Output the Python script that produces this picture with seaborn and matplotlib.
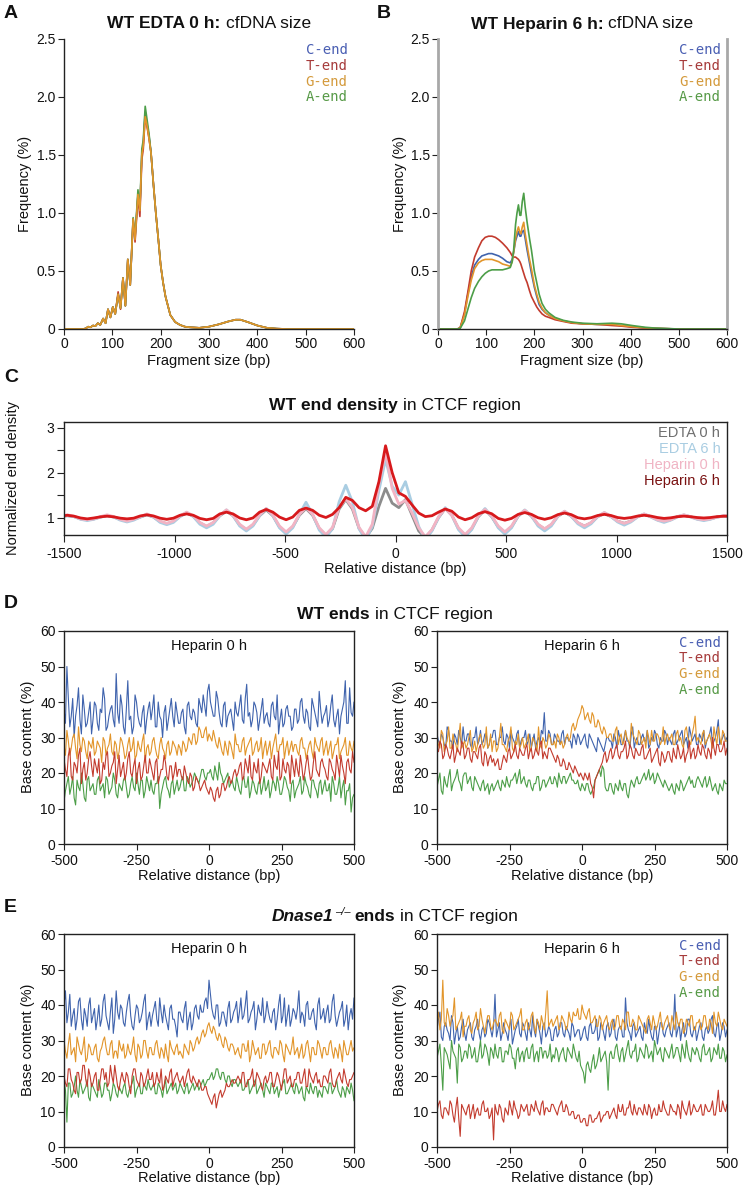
import numpy as np
import matplotlib
matplotlib.use("Agg")
import matplotlib.pyplot as plt
from matplotlib.transforms import IdentityTransform
import seaborn as sns

# ---------------- data ----------------
# A: WT EDTA 0 h fragment size (%)
size_x_a = [0, 40, 45, 50, 55, 60, 65, 70, 75, 81,
            86, 91, 96, 101, 106, 112, 117, 122, 127, 132,
            137, 143, 147, 153, 157, 161, 164, 168, 172, 176,
            180, 185, 190, 195, 200, 205, 210, 220, 230, 240,
            250, 260, 280, 300, 320, 340, 355, 365, 380, 400,
            420, 440, 460, 600]
edta0_c = [0, 0, 0.005, 0.02, 0.015, 0.03, 0.025, 0.05, 0.035, 0.09,
           0.05, 0.17, 0.1, 0.19, 0.13, 0.3, 0.18, 0.44, 0.2, 0.6,
           0.38, 0.93, 0.8, 1.15, 1.03, 1.5, 1.6, 1.87, 1.76, 1.66,
           1.52, 1.25, 1.0, 0.78, 0.55, 0.4, 0.28, 0.12, 0.06, 0.035,
           0.02, 0.015, 0.01, 0.02, 0.04, 0.065, 0.08, 0.08, 0.06, 0.03,
           0.01, 0.003, 0, 0]
edta0_t = [0, 0, 0.005, 0.02, 0.015, 0.03, 0.025, 0.05, 0.035, 0.09,
           0.05, 0.17, 0.1, 0.19, 0.13, 0.32, 0.17, 0.44, 0.2, 0.6,
           0.38, 0.95, 0.75, 1.14, 0.97, 1.46, 1.55, 1.84, 1.74, 1.64,
           1.52, 1.25, 1.0, 0.78, 0.55, 0.4, 0.28, 0.12, 0.06, 0.035,
           0.02, 0.015, 0.01, 0.02, 0.04, 0.065, 0.08, 0.08, 0.06, 0.03,
           0.01, 0.003, 0, 0]
edta0_g = [0, 0, 0.005, 0.02, 0.015, 0.03, 0.025, 0.05, 0.035, 0.09,
           0.05, 0.17, 0.1, 0.19, 0.13, 0.3, 0.18, 0.44, 0.2, 0.6,
           0.38, 0.95, 0.77, 1.16, 1.02, 1.5, 1.58, 1.83, 1.75, 1.64,
           1.52, 1.25, 1.0, 0.78, 0.55, 0.4, 0.28, 0.12, 0.06, 0.035,
           0.02, 0.015, 0.01, 0.02, 0.04, 0.065, 0.08, 0.08, 0.06, 0.03,
           0.01, 0.003, 0, 0]
edta0_a = [0, 0, 0.005, 0.02, 0.015, 0.03, 0.025, 0.05, 0.035, 0.09,
           0.05, 0.17, 0.1, 0.19, 0.13, 0.3, 0.18, 0.44, 0.2, 0.6,
           0.38, 0.96, 0.79, 1.2, 1.04, 1.55, 1.63, 1.92, 1.8, 1.68,
           1.52, 1.25, 1.0, 0.78, 0.55, 0.4, 0.28, 0.12, 0.06, 0.035,
           0.02, 0.015, 0.01, 0.02, 0.04, 0.065, 0.08, 0.08, 0.06, 0.03,
           0.01, 0.003, 0, 0]

# B: WT Heparin 6 h fragment size (%)
size_x_b = [0, 40, 46, 55, 62, 69, 76, 84, 91, 98,
            105, 112, 119, 126, 134, 143, 150, 154, 157, 161,
            164, 167, 170, 172, 175, 178, 181, 185, 190, 194,
            200, 205, 210, 216, 223, 230, 243, 260, 278, 300,
            330, 361, 380, 403, 430, 451, 500, 600]
hep6_c = [0, 0, 0.01, 0.13, 0.3, 0.45, 0.55, 0.6, 0.63, 0.64,
          0.65, 0.65, 0.64, 0.63, 0.61, 0.58, 0.57, 0.6, 0.66, 0.76,
          0.8, 0.84, 0.8, 0.8, 0.84, 0.85, 0.78, 0.68, 0.57, 0.48,
          0.36, 0.28, 0.21, 0.17, 0.14, 0.12, 0.09, 0.07, 0.055, 0.045,
          0.04, 0.04, 0.03, 0.02, 0.01, 0.005, 0, 0]
hep6_t = [0, 0, 0.01, 0.15, 0.32, 0.5, 0.62, 0.7, 0.76, 0.79,
          0.8, 0.8, 0.79, 0.77, 0.74, 0.7, 0.66, 0.63, 0.62, 0.62,
          0.61, 0.6, 0.58, 0.56, 0.52, 0.48, 0.44, 0.4, 0.33, 0.28,
          0.23, 0.19, 0.16, 0.13, 0.11, 0.1, 0.08, 0.065, 0.05, 0.045,
          0.04, 0.03, 0.025, 0.015, 0.008, 0.005, 0, 0]
hep6_g = [0, 0, 0.01, 0.12, 0.28, 0.42, 0.52, 0.57, 0.59, 0.6,
          0.6, 0.6, 0.59, 0.58, 0.56, 0.55, 0.54, 0.58, 0.66, 0.78,
          0.84, 0.88, 0.83, 0.82, 0.88, 0.92, 0.82, 0.72, 0.6, 0.52,
          0.38, 0.3, 0.23, 0.18, 0.14, 0.12, 0.09, 0.07, 0.055, 0.045,
          0.04, 0.04, 0.03, 0.02, 0.01, 0.005, 0, 0]
hep6_a = [0, 0, 0.005, 0.07, 0.17, 0.27, 0.35, 0.41, 0.45, 0.48,
          0.5, 0.51, 0.51, 0.51, 0.51, 0.52, 0.53, 0.58, 0.68, 0.9,
          1.0, 1.07, 0.98, 0.98, 1.1, 1.17, 1.05, 0.92, 0.78, 0.68,
          0.5, 0.4, 0.3, 0.22, 0.17, 0.14, 0.1, 0.075, 0.06, 0.05,
          0.045, 0.05, 0.045, 0.03, 0.015, 0.008, 0, 0]

# C: normalized end density around CTCF, positions -1515..1515 every 30 bp
ctcf_x = np.arange(-1515, 1516, 30)
dens_edta0 = [1.02, 1.04, 1.02, 0.97, 0.95, 0.97,
              1.01, 1.04, 1.01, 0.96, 0.93, 0.96,
              1.01, 1.06, 1.01, 0.91, 0.86, 0.91,
              1.03, 1.10, 1.03, 0.88, 0.80, 0.88,
              1.04, 1.14, 1.04, 0.83, 0.73, 0.83,
              1.04, 1.17, 1.04, 0.79, 0.66, 0.79,
              1.05, 1.20, 1.05, 0.75, 0.60, 0.75,
              1.19, 1.40, 1.19, 0.76, 0.55, 0.76,
              1.25, 1.65, 1.32, 1.22, 1.40, 1.05,
              0.70, 0.55, 0.72, 1.00, 1.20, 1.05,
              0.75, 0.60, 0.75, 1.02, 1.17, 1.02,
              0.79, 0.67, 0.79, 1.03, 1.15, 1.03,
              0.84, 0.74, 0.84, 1.03, 1.12, 1.03,
              0.88, 0.81, 0.88, 1.02, 1.09, 1.02,
              0.92, 0.87, 0.92, 1.02, 1.07, 1.02,
              0.95, 0.92, 0.95, 1.02, 1.05, 1.02,
              0.97, 0.95, 0.97, 1.01, 1.03, 1.02]
dens_edta6 = [1.02, 1.04, 1.02, 0.96, 0.93, 0.96,
              1.01, 1.04, 1.01, 0.94, 0.90, 0.94,
              1.01, 1.07, 1.01, 0.89, 0.84, 0.89,
              1.02, 1.11, 1.02, 0.85, 0.77, 0.85,
              1.04, 1.17, 1.04, 0.81, 0.70, 0.81,
              1.04, 1.20, 1.04, 0.77, 0.63, 0.77,
              1.07, 1.34, 1.07, 0.72, 0.56, 0.75,
              1.35, 1.72, 1.35, 0.75, 0.50, 0.80,
              1.60, 2.30, 1.70, 1.50, 1.80, 1.30,
              0.80, 0.50, 0.70, 1.00, 1.22, 1.05,
              0.73, 0.57, 0.73, 1.03, 1.20, 1.03,
              0.77, 0.63, 0.77, 1.04, 1.17, 1.04,
              0.81, 0.70, 0.81, 1.03, 1.14, 1.03,
              0.86, 0.77, 0.86, 1.02, 1.11, 1.02,
              0.90, 0.83, 0.90, 1.01, 1.08, 1.01,
              0.94, 0.89, 0.94, 1.01, 1.06, 1.01,
              0.96, 0.93, 0.96, 1.01, 1.04, 1.02]
dens_hep0 = [1.03, 1.06, 1.03, 0.97, 0.95, 0.97,
             1.02, 1.06, 1.02, 0.96, 0.92, 0.96,
             1.02, 1.08, 1.02, 0.92, 0.87, 0.92,
             1.04, 1.12, 1.04, 0.89, 0.81, 0.89,
             1.05, 1.17, 1.05, 0.85, 0.74, 0.85,
             1.06, 1.20, 1.06, 0.81, 0.68, 0.81,
             1.07, 1.22, 1.07, 0.77, 0.62, 0.78,
             1.22, 1.42, 1.22, 0.78, 0.57, 0.85,
             1.75, 2.45, 1.65, 1.30, 1.38, 1.10,
             0.77, 0.57, 0.73, 1.02, 1.20, 1.05,
             0.77, 0.62, 0.77, 1.04, 1.18, 1.04,
             0.81, 0.68, 0.81, 1.05, 1.16, 1.05,
             0.85, 0.75, 0.85, 1.04, 1.14, 1.04,
             0.89, 0.81, 0.89, 1.03, 1.11, 1.03,
             0.92, 0.87, 0.92, 1.02, 1.08, 1.02,
             0.95, 0.92, 0.95, 1.02, 1.06, 1.02,
             0.97, 0.95, 0.97, 1.01, 1.04, 1.03]
dens_hep6 = [1.03, 1.05, 1.03, 0.99, 0.97, 0.99,
             1.015, 1.03, 1.015, 0.985, 0.97, 0.985,
             1.035, 1.06, 1.035, 0.985, 0.96, 0.985,
             1.05, 1.08, 1.05, 0.98, 0.95, 0.98,
             1.08, 1.12, 1.08, 0.99, 0.95, 0.99,
             1.12, 1.18, 1.12, 1.01, 0.95, 1.01,
             1.16, 1.21, 1.16, 1.05, 1.00, 1.07,
             1.22, 1.45, 1.38, 1.22, 1.15, 1.25,
             1.80, 2.60, 2.00, 1.55, 1.47, 1.28,
             1.10, 1.02, 1.04, 1.12, 1.19, 1.14,
             1.01, 0.95, 0.995, 1.085, 1.13, 1.085,
             0.98, 0.94, 0.98, 1.07, 1.11, 1.07,
             0.995, 0.96, 0.995, 1.065, 1.10, 1.065,
             0.995, 0.97, 0.995, 1.045, 1.07, 1.045,
             1.00, 0.98, 0.998, 1.032, 1.05, 1.032,
             1.00, 0.98, 0.993, 1.018, 1.03, 1.018,
             1.00, 0.99, 1.00, 1.02, 1.03, 1.03]

# D/E: base content (%) of fragment ends
# read at -500..500 (every 10 bp) and at the in-between positions -495..495
rel_x = np.arange(-500, 501, 10)
rel_x_mid = np.arange(-495, 496, 10)

wt_h0_c = [38, 50, 33, 41, 36, 44, 31, 38, 34, 40, 35, 39, 32, 37, 41, 33, 38, 35, 48, 34,
           39, 31, 46, 36, 33, 40, 34, 37, 31, 38, 35, 42, 33, 36, 30, 39, 35, 41, 33, 37,
           34, 38, 31, 40, 35, 37, 33, 39, 42, 36, 45, 38, 36, 41, 34, 39, 33, 37, 35, 40,
           36, 42, 34, 45, 37, 35, 39, 32, 38, 34, 37, 33, 40, 35, 31, 38, 34, 39, 36, 33,
           38, 35, 41, 34, 37, 32, 39, 35, 43, 34, 37, 33, 39, 35, 36, 31, 38, 46, 34, 37, 40]
wt_h0_c_mid = [34, 41, 36, 30, 39, 35, 42, 33, 37, 31, 40, 34, 38, 44, 32, 36, 39, 33, 37, 42,
               33, 38, 35, 31, 42, 36, 33, 39, 35, 40, 38, 33, 40, 35, 37, 32, 38, 36, 40, 34,
               37, 33, 39, 36, 38, 34, 41, 37, 39, 43, 40, 36, 43, 37, 33, 40, 36, 38, 32, 37,
               39, 35, 41, 36, 33, 40, 37, 35, 41, 36, 34, 39, 36, 42, 35, 33, 38, 36, 32, 38,
               34, 40, 36, 38, 33, 41, 37, 33, 38, 36, 39, 35, 42, 33, 38, 36, 40, 34, 44, 36]
wt_h0_g = [28, 32, 25, 30, 27, 33, 26, 29, 24, 28, 30, 26, 28, 23, 29, 27, 31, 25, 28, 26,
           29, 24, 28, 26, 30, 25, 27, 29, 23, 28, 26, 30, 25, 28, 27, 24, 29, 26, 28, 25,
           27, 29, 26, 30, 28, 31, 29, 32, 30, 33, 31, 29, 30, 27, 28, 25, 27, 29, 26, 31,
           28, 26, 30, 27, 29, 25, 28, 26, 30, 27, 25, 29, 27, 31, 26, 28, 24, 29, 27, 26,
           28, 25, 30, 27, 26, 29, 24, 28, 26, 30, 27, 25, 29, 26, 28, 24, 27, 30, 25, 27, 29]
wt_h0_g_mid = [25, 29, 27, 31, 24, 28, 30, 26, 29, 27, 25, 29, 27, 30, 25, 28, 26, 29, 24, 30,
               27, 25, 30, 27, 24, 29, 26, 31, 27, 25, 29, 27, 24, 30, 26, 28, 25, 29, 27, 28,
               25, 28, 27, 29, 31, 28, 33, 30, 32, 29, 30, 32, 28, 30, 26, 29, 25, 28, 24, 28,
               26, 29, 25, 28, 30, 26, 29, 27, 24, 29, 27, 24, 29, 26, 28, 30, 27, 25, 29, 28,
               26, 29, 27, 24, 28, 26, 30, 27, 29, 25, 29, 27, 24, 28, 30, 26, 28, 25, 29, 26]
wt_h0_t = [24, 19, 27, 18, 22, 25, 17, 23, 20, 26, 19, 22, 24, 18, 21, 26, 20, 23, 17, 25,
           21, 18, 24, 20, 22, 17, 23, 19, 25, 20, 22, 18, 24, 19, 21, 23, 18, 22, 20, 19,
           21, 18, 20, 17, 19, 16, 18, 15, 17, 16, 14, 15, 12, 16, 14, 17, 16, 19, 18, 21,
           20, 23, 19, 22, 25, 18, 21, 24, 19, 22, 20, 24, 18, 22, 26, 19, 21, 23, 17, 22,
           24, 19, 22, 20, 25, 18, 23, 21, 19, 24, 21, 18, 23, 20, 25, 19, 22, 17, 24, 20, 23]
wt_h0_t_mid = [21, 25, 19, 23, 20, 27, 21, 18, 24, 22, 24, 20, 17, 23, 25, 19, 22, 26, 21, 19,
               23, 20, 26, 19, 24, 21, 18, 22, 20, 24, 20, 23, 17, 21, 25, 19, 22, 18, 23, 21,
               19, 22, 18, 20, 15, 19, 17, 16, 18, 15, 16, 13, 15, 13, 17, 15, 18, 17, 20, 19,
               22, 18, 24, 20, 19, 23, 20, 17, 23, 21, 22, 19, 25, 21, 18, 24, 20, 22, 25, 19,
               21, 25, 18, 23, 21, 19, 26, 20, 23, 22, 19, 24, 21, 18, 22, 25, 20, 23, 21, 26]
wt_h0_a = [12, 17, 14, 19, 11, 16, 20, 13, 18, 15, 17, 14, 19, 16, 13, 18, 15, 20, 14, 17,
           15, 19, 13, 17, 16, 20, 14, 18, 15, 17, 18, 14, 17, 10, 16, 19, 15, 17, 14, 18,
           16, 19, 15, 18, 17, 20, 18, 19, 21, 18, 20, 19, 22, 18, 20, 17, 19, 16, 18, 15,
           17, 14, 19, 16, 13, 18, 15, 17, 14, 19, 16, 13, 18, 15, 17, 14, 19, 16, 12, 18,
           15, 17, 14, 19, 16, 13, 18, 15, 17, 14, 18, 15, 12, 17, 14, 19, 16, 11, 15, 9, 14]
wt_h0_a_mid = [15, 19, 16, 13, 18, 15, 17, 12, 19, 16, 14, 18, 15, 17, 19, 14, 16, 18, 13, 16,
               18, 16, 14, 19, 15, 17, 18, 13, 19, 15, 15, 17, 19, 14, 18, 16, 13, 18, 16, 15,
               18, 15, 19, 16, 18, 19, 17, 21, 19, 20, 21, 18, 20, 23, 19, 18, 20, 17, 16, 19,
               15, 18, 16, 19, 15, 17, 14, 18, 16, 15, 18, 15, 17, 19, 14, 16, 18, 15, 17, 13,
               16, 19, 15, 17, 14, 18, 16, 13, 18, 16, 15, 17, 19, 14, 16, 13, 18, 15, 17, 13]

wt_h6_c = [31, 28, 30, 27, 32, 29, 31, 28, 30, 33, 29, 31, 27, 30, 28, 32, 29, 31, 28, 30,
           32, 28, 30, 29, 31, 27, 30, 28, 32, 29, 30, 28, 31, 29, 27, 30, 32, 37, 29, 31,
           28, 30, 29, 31, 28, 30, 29, 31, 28, 30, 29, 31, 27, 30, 28, 26, 29, 27, 28, 30,
           29, 31, 27, 30, 28, 32, 29, 31, 27, 30, 28, 31, 29, 27, 30, 32, 28, 30, 29, 31,
           30, 28, 32, 29, 31, 28, 30, 33, 29, 31, 28, 30, 32, 29, 31, 28, 30, 35, 29, 31, 30]
wt_h6_c_mid = [29, 31, 28, 33, 29, 27, 30, 32, 28, 29, 31, 28, 30, 33, 29, 28, 31, 27, 30, 32,
               28, 30, 33, 28, 30, 32, 29, 31, 27, 30, 32, 29, 27, 31, 29, 28, 31, 29, 32, 28,
               31, 29, 28, 32, 30, 29, 27, 30, 31, 28, 30, 28, 31, 29, 27, 30, 28, 26, 30, 29,
               27, 30, 32, 28, 30, 29, 27, 33, 29, 28, 30, 29, 32, 28, 29, 31, 27, 29, 32, 28,
               29, 31, 28, 30, 32, 29, 27, 31, 30, 28, 31, 29, 27, 30, 33, 29, 32, 28, 30, 29]
wt_h6_g = [30, 27, 31, 28, 33, 27, 29, 26, 34, 28, 27, 30, 26, 29, 28, 31, 27, 33, 28, 26,
           29, 27, 34, 28, 26, 30, 27, 29, 31, 28, 27, 29, 26, 30, 28, 33, 27, 29, 28, 30,
           28, 27, 30, 29, 28, 31, 30, 34, 33, 36, 39, 35, 37, 34, 36, 33, 34, 31, 32, 30,
           31, 29, 33, 30, 28, 32, 29, 34, 30, 28, 31, 29, 27, 30, 32, 29, 31, 28, 33, 30,
           29, 31, 28, 32, 30, 27, 33, 29, 31, 36, 30, 28, 32, 29, 31, 27, 30, 33, 28, 31, 29]
wt_h6_g_mid = [28, 32, 26, 29, 27, 31, 28, 30, 27, 29, 28, 32, 27, 26, 30, 29, 28, 27, 31, 29,
               26, 30, 28, 27, 29, 33, 26, 28, 27, 30, 28, 31, 27, 29, 26, 28, 30, 27, 31, 28,
               29, 31, 28, 27, 30, 29, 33, 32, 35, 37, 38, 36, 35, 37, 33, 35, 32, 33, 30, 31,
               29, 32, 28, 31, 29, 30, 28, 31, 29, 32, 28, 30, 32, 28, 29, 31, 30, 29, 28, 31,
               30, 28, 31, 29, 28, 32, 30, 28, 33, 29, 29, 31, 28, 30, 29, 33, 28, 30, 32, 29]
wt_h6_t = [27, 29, 24, 28, 25, 26, 23, 27, 25, 28, 25, 27, 23, 26, 24, 28, 22, 25, 24, 23,
           22, 24, 21, 25, 23, 27, 25, 28, 24, 26, 25, 28, 26, 24, 27, 25, 29, 26, 24, 27,
           25, 23, 24, 22, 23, 21, 22, 20, 21, 19, 19, 20, 18, 17, 13, 19, 21, 23, 26, 24,
           27, 25, 28, 24, 26, 29, 25, 27, 24, 26, 25, 28, 24, 26, 23, 25, 27, 22, 25, 24,
           26, 23, 25, 28, 24, 27, 25, 29, 26, 24, 28, 25, 27, 24, 26, 30, 25, 28, 26, 29, 27]
wt_h6_t_mid = [26, 28, 25, 27, 24, 28, 25, 26, 29, 24, 27, 24, 26, 25, 27, 23, 26, 22, 25, 24,
               23, 21, 23, 24, 26, 24, 26, 25, 27, 25, 27, 24, 27, 25, 26, 28, 24, 25, 27, 26,
               24, 25, 22, 24, 21, 23, 21, 22, 20, 20, 18, 19, 20, 16, 18, 20, 22, 25, 23, 26,
               24, 27, 25, 26, 27, 24, 28, 25, 27, 25, 27, 24, 25, 27, 24, 26, 23, 26, 23, 26,
               24, 27, 24, 26, 25, 23, 26, 24, 27, 25, 26, 28, 25, 27, 24, 27, 28, 26, 27, 25]
wt_h6_a = [16, 20, 14, 17, 19, 15, 18, 21, 17, 19, 20, 18, 16, 19, 17, 15, 18, 16, 14, 17,
           16, 18, 15, 17, 19, 16, 18, 20, 19, 17, 19, 16, 18, 15, 17, 19, 16, 18, 17, 19,
           17, 18, 20, 17, 19, 18, 20, 18, 17, 16, 17, 15, 17, 14, 16, 19, 21, 22, 16, 15,
           17, 14, 16, 18, 15, 17, 13, 18, 16, 19, 17, 19, 18, 21, 19, 17, 20, 18, 16, 17,
           15, 17, 14, 16, 18, 15, 17, 19, 18, 16, 19, 17, 18, 16, 19, 15, 17, 14, 16, 18, 17]
wt_h6_a_mid = [18, 15, 19, 16, 21, 17, 19, 18, 15, 20, 17, 19, 15, 18, 16, 17, 15, 17, 16, 15,
               17, 16, 18, 16, 17, 18, 19, 17, 21, 18, 17, 18, 16, 17, 19, 15, 18, 16, 18, 17,
               19, 16, 18, 19, 17, 19, 18, 17, 18, 15, 16, 17, 15, 15, 18, 20, 19, 21, 15, 17,
               15, 17, 15, 16, 17, 14, 16, 17, 18, 17, 18, 20, 19, 18, 20, 18, 19, 17, 18, 16,
               16, 15, 17, 15, 17, 16, 18, 17, 16, 18, 18, 16, 19, 17, 17, 16, 15, 17, 15, 17]

ko_h0_c = [40, 35, 43, 37, 33, 41, 36, 39, 34, 42, 37, 33, 40, 36, 43, 35, 38, 32, 44, 36,
           39, 34, 41, 37, 33, 40, 35, 38, 43, 36, 34, 39, 36, 42, 35, 37, 33, 40, 36, 31,
           38, 35, 41, 36, 33, 39, 37, 40, 38, 42, 47, 39, 36, 40, 35, 38, 34, 41, 36, 39,
           35, 42, 37, 44, 36, 39, 33, 40, 37, 35, 41, 36, 38, 33, 40, 35, 42, 37, 34, 39,
           36, 44, 38, 34, 41, 36, 39, 33, 42, 37, 35, 40, 36, 43, 34, 38, 41, 36, 33, 39, 42]
ko_h0_c_mid = [44, 38, 34, 39, 36, 42, 33, 37, 40, 35, 39, 36, 34, 41, 37, 33, 42, 36, 38, 40,
               35, 38, 43, 34, 37, 39, 36, 41, 33, 38, 37, 41, 34, 38, 40, 35, 39, 36, 34, 38,
               36, 39, 33, 38, 35, 40, 36, 38, 41, 39, 43, 37, 40, 34, 38, 36, 39, 35, 38, 41,
               38, 36, 40, 35, 38, 41, 36, 38, 42, 37, 38, 35, 39, 36, 43, 37, 34, 40, 36, 38,
               39, 35, 37, 40, 36, 38, 35, 40, 36, 39, 38, 35, 41, 37, 36, 39, 34, 40, 37, 36]
ko_h0_g = [30, 25, 32, 27, 24, 29, 26, 31, 25, 28, 26, 29, 24, 28, 31, 26, 29, 25, 27, 30,
           27, 25, 29, 26, 31, 24, 28, 26, 30, 25, 28, 26, 30, 25, 27, 29, 24, 28, 26, 29,
           27, 25, 28, 26, 29, 28, 31, 30, 33, 32, 35, 32, 33, 30, 31, 28, 30, 27, 29, 26,
           28, 25, 29, 27, 24, 30, 26, 28, 25, 29, 27, 30, 25, 28, 26, 29, 24, 28, 26, 31,
           27, 25, 29, 26, 30, 24, 28, 26, 29, 25, 28, 26, 30, 25, 27, 29, 24, 28, 26, 30, 28]
ko_h0_g_mid = [27, 29, 26, 28, 31, 27, 28, 24, 29, 26, 28, 25, 27, 30, 28, 26, 30, 27, 25, 28,
               29, 26, 27, 28, 26, 29, 25, 30, 27, 28, 26, 29, 27, 28, 25, 26, 30, 27, 28, 26,
               26, 29, 27, 30, 27, 30, 29, 32, 31, 34, 33, 34, 31, 32, 29, 31, 28, 29, 28, 27,
               26, 29, 27, 30, 26, 28, 27, 25, 29, 26, 29, 26, 28, 27, 30, 26, 29, 27, 28, 26,
               28, 27, 25, 29, 27, 28, 26, 30, 27, 28, 26, 29, 27, 28, 25, 27, 30, 26, 28, 27]
ko_h0_t = [20, 17, 22, 18, 15, 21, 19, 23, 17, 20, 18, 21, 16, 22, 19, 17, 23, 18, 20, 16,
           21, 18, 20, 15, 22, 19, 17, 20, 18, 22, 19, 17, 21, 18, 16, 20, 18, 22, 19, 21,
           18, 20, 19, 22, 18, 19, 17, 18, 16, 17, 14, 12, 15, 13, 16, 15, 18, 17, 19, 18,
           20, 18, 21, 17, 19, 22, 18, 20, 17, 19, 18, 21, 17, 19, 20, 16, 22, 18, 20, 17,
           19, 21, 18, 22, 17, 20, 18, 21, 19, 17, 20, 18, 22, 17, 19, 21, 18, 20, 17, 19, 21]
ko_h0_t_mid = [18, 22, 19, 16, 21, 18, 23, 19, 22, 17, 20, 16, 19, 22, 21, 18, 20, 23, 17, 19,
               19, 21, 17, 20, 22, 18, 21, 17, 20, 19, 21, 18, 19, 22, 17, 19, 21, 17, 20, 19,
               19, 17, 21, 19, 20, 18, 19, 16, 17, 15, 13, 14, 11, 15, 14, 16, 17, 18, 18, 19,
               19, 21, 17, 19, 20, 17, 21, 19, 16, 20, 19, 21, 17, 21, 18, 19, 22, 19, 17, 19,
               21, 18, 20, 17, 22, 19, 20, 18, 17, 20, 19, 21, 18, 17, 20, 19, 22, 18, 19, 20]
ko_h0_a = [19, 7, 18, 15, 20, 14, 17, 16, 19, 13, 17, 15, 19, 14, 18, 16, 13, 18, 15, 17,
           15, 18, 14, 17, 20, 16, 18, 15, 17, 19, 16, 18, 15, 17, 14, 19, 16, 18, 17, 15,
           18, 16, 17, 15, 17, 16, 18, 17, 19, 18, 19, 21, 20, 22, 19, 21, 18, 20, 17, 19,
           17, 19, 16, 18, 15, 17, 19, 16, 18, 14, 17, 15, 18, 16, 14, 17, 19, 15, 17, 16,
           18, 15, 17, 13, 16, 18, 15, 17, 16, 14, 17, 15, 18, 16, 19, 15, 17, 14, 16, 18, 13]
ko_h0_a_mid = [16, 18, 14, 17, 16, 19, 15, 17, 14, 18, 16, 14, 17, 15, 18, 16, 15, 17, 14, 16,
               17, 15, 16, 18, 14, 17, 15, 18, 16, 17, 17, 15, 18, 16, 17, 15, 17, 16, 18, 16,
               17, 15, 18, 16, 18, 17, 16, 18, 17, 19, 20, 19, 22, 20, 21, 19, 20, 18, 19, 18,
               18, 16, 17, 19, 16, 18, 15, 17, 16, 18, 16, 18, 15, 17, 16, 18, 15, 16, 18, 15,
               17, 16, 14, 17, 15, 16, 17, 14, 15, 17, 16, 18, 15, 17, 16, 14, 16, 17, 15, 16]

ko_h6_c = [33, 38, 30, 35, 32, 37, 29, 34, 31, 36, 30, 34, 31, 33, 36, 30, 34, 32, 35, 31,
           43, 33, 30, 35, 32, 34, 29, 33, 36, 31, 34, 30, 33, 37, 31, 34, 29, 35, 32, 33,
           30, 34, 32, 35, 31, 33, 30, 34, 32, 33, 31, 34, 30, 35, 32, 36, 31, 34, 30, 35,
           32, 36, 30, 34, 31, 42, 33, 30, 35, 32, 34, 30, 33, 36, 31, 34, 29, 35, 32, 33,
           35, 31, 43, 33, 30, 35, 32, 36, 31, 34, 32, 35, 30, 34, 33, 37, 31, 35, 32, 34, 33]
ko_h6_c_mid = [36, 31, 34, 33, 30, 35, 32, 30, 34, 32, 33, 35, 30, 34, 32, 33, 31, 36, 33, 34,
               31, 35, 32, 33, 30, 36, 31, 34, 32, 35, 32, 35, 31, 33, 36, 32, 34, 31, 34, 30,
               33, 31, 35, 32, 34, 32, 35, 31, 33, 30, 33, 31, 34, 32, 33, 30, 35, 32, 34, 31,
               35, 31, 33, 34, 31, 35, 32, 34, 31, 33, 31, 35, 32, 33, 30, 34, 32, 35, 31, 34,
               32, 34, 31, 35, 33, 31, 36, 32, 33, 30, 34, 31, 33, 32, 36, 32, 34, 30, 35, 31]
ko_h6_g = [35, 33, 47, 34, 37, 36, 42, 34, 36, 31, 34, 37, 32, 36, 33, 39, 34, 35, 37, 33,
           36, 34, 38, 32, 35, 33, 37, 34, 36, 39, 33, 36, 34, 38, 32, 35, 37, 33, 44, 35,
           34, 36, 33, 37, 35, 34, 36, 38, 37, 36, 40, 37, 38, 35, 36, 34, 37, 33, 36, 34,
           35, 33, 37, 34, 36, 33, 38, 34, 35, 33, 36, 34, 32, 37, 33, 35, 34, 38, 33, 36,
           34, 37, 33, 35, 36, 32, 36, 34, 37, 33, 35, 33, 37, 34, 36, 32, 35, 38, 34, 36, 34]
ko_h6_g_mid = [38, 36, 35, 39, 34, 37, 33, 35, 38, 34, 36, 33, 35, 38, 34, 36, 32, 37, 34, 35,
               35, 37, 33, 36, 34, 38, 33, 35, 37, 33, 35, 33, 37, 34, 36, 33, 35, 38, 34, 36,
               35, 37, 34, 36, 33, 38, 35, 37, 39, 36, 38, 36, 39, 35, 37, 34, 36, 35, 37, 33,
               36, 34, 37, 33, 35, 38, 34, 36, 33, 37, 35, 33, 36, 35, 37, 33, 36, 34, 35, 37,
               33, 35, 38, 34, 36, 33, 35, 37, 33, 35, 36, 34, 37, 33, 35, 38, 34, 36, 33, 35]
ko_h6_t = [10, 13, 8, 11, 9, 12, 7, 14, 3, 11, 9, 12, 10, 8, 11, 9, 13, 10, 8, 11,
           12, 9, 11, 7, 10, 13, 9, 11, 8, 12, 10, 12, 9, 11, 13, 10, 12, 9, 11, 10,
           12, 10, 11, 13, 10, 11, 9, 10, 8, 9, 7, 8, 6, 9, 7, 8, 10, 8, 9, 10,
           9, 11, 8, 10, 12, 9, 11, 10, 12, 9, 11, 9, 10, 12, 8, 11, 9, 10, 13, 10,
           9, 11, 10, 12, 8, 11, 9, 13, 10, 11, 10, 12, 9, 11, 10, 13, 9, 16, 10, 11, 12]
ko_h6_t_mid = [12, 9, 11, 10, 13, 9, 11, 8, 12, 10, 11, 8, 12, 10, 9, 12, 10, 11, 9, 2,
               10, 12, 8, 11, 9, 11, 13, 10, 9, 11, 11, 9, 12, 10, 11, 9, 13, 11, 10, 12,
               11, 9, 12, 10, 12, 9, 10, 8, 9, 7, 8, 6, 9, 7, 8, 9, 7, 9, 10, 8,
               10, 9, 12, 10, 9, 11, 13, 9, 10, 11, 10, 12, 9, 11, 10, 9, 12, 10, 11, 9,
               12, 10, 9, 11, 13, 10, 11, 9, 12, 10, 11, 9, 12, 10, 11, 9, 12, 10, 13, 10]
ko_h6_a = [25, 29, 16, 27, 24, 30, 26, 18, 28, 25, 27, 29, 25, 28, 24, 30, 26, 28, 23, 27,
           29, 25, 28, 24, 27, 29, 25, 22, 28, 26, 24, 28, 25, 29, 26, 24, 28, 27, 25, 29,
           26, 28, 24, 27, 25, 28, 26, 29, 25, 27, 22, 18, 24, 21, 26, 23, 28, 25, 27, 16,
           27, 25, 29, 24, 28, 26, 30, 25, 27, 24, 28, 26, 29, 25, 27, 30, 26, 28, 24, 27,
           25, 29, 26, 28, 24, 27, 30, 25, 28, 26, 27, 24, 29, 26, 28, 25, 27, 29, 25, 27, 26]
ko_h6_a_mid = [27, 23, 28, 26, 22, 27, 25, 29, 24, 27, 25, 28, 26, 24, 27, 25, 29, 26, 28, 25,
               26, 28, 24, 27, 26, 28, 25, 27, 24, 27, 27, 25, 28, 24, 27, 28, 25, 27, 26, 24,
               25, 27, 26, 28, 24, 27, 25, 27, 24, 23, 21, 23, 22, 24, 22, 25, 24, 26, 24, 26,
               25, 28, 26, 27, 24, 28, 26, 27, 29, 25, 27, 25, 28, 26, 24, 28, 27, 25, 28, 26,
               27, 25, 28, 26, 29, 25, 27, 24, 27, 28, 25, 28, 26, 27, 24, 28, 26, 25, 28, 24]

end_labels = ["C-end", "T-end", "G-end", "A-end"]
end_colors = ["#3f63ad", "#c33b2e", "#e2952a", "#4c9e48"]
end_text_colors = ["#4a5fb3", "#a63b3b", "#d49a3b", "#579a47"]
dens_labels = ["EDTA 0 h", "EDTA 6 h", "Heparin 0 h", "Heparin 6 h"]
dens_colors = ["#8c8c8c", "#a9cde2", "#f2b4c4", "#d7191c"]
dens_text_colors = ["#6e6e6e", "#a9cde2", "#f0b4c4", "#7a1212"]

# ---------------- layout ----------------
sns.set_style("ticks")
plt.rcParams['font.family'] = ['Liberation Sans', 'DejaVu Sans']
plt.rcParams['axes.unicode_minus'] = False

W, H = 744, 1187
fig = plt.figure(figsize=(W / 100, H / 100), dpi=100)
ID = IdentityTransform()
NARROW = ['Liberation Sans Narrow', 'Liberation Sans', 'DejaVu Sans']


def px_ax(left, top, right, bottom):
    return fig.add_axes([left / W, 1 - bottom / H, (right - left) / W, (bottom - top) / H])


def ptext(x, y, s, **kw):
    return fig.text(x, H - y, s, transform=ID, **kw)


def rich(xc, y_base, parts):
    # parts: (text, props, raise_px, gap_px)
    r = fig.canvas.get_renderer()
    items = []
    for s, kw, dy, gap in parts:
        t = ptext(0, y_base - dy, s, va='baseline', ha='left', **kw)
        items.append((t, t.get_window_extent(r).width, gap))
    x = xc - sum(w + g for _, w, g in items) / 2
    for t, w, g in items:
        t.set_x(x)
        x += w + g


def style_ticks(ax, length=4, xpad=2):
    ax.tick_params(direction='out', length=length, width=0.8, labelsize=10,
                   color='#222222', labelcolor='#111111', pad=2)
    ax.tick_params(axis='x', pad=xpad)


def end_legend(ax, ys):
    for lab, c, y in zip(end_labels, end_text_colors, ys):
        ax.text(0.978, y, lab, transform=ax.transAxes, ha='right', va='center',
                color=c, fontsize=10, family=['DejaVu Sans Mono'])


# ---- A / B ----
axA = px_ax(64, 39, 354, 329)
for ys, c in zip([edta0_c, edta0_t, edta0_a, edta0_g],
                 [end_colors[0], end_colors[1], end_colors[3], end_colors[2]]):
    sns.lineplot(x=size_x_a, y=ys, ax=axA, color=c, linewidth=1.2,
                 estimator=None, errorbar=None, sort=False, legend=False)
axB = px_ax(438, 39, 727, 329)
for ys, c in zip([hep6_c, hep6_t, hep6_g, hep6_a],
                 [end_colors[0], end_colors[1], end_colors[2], end_colors[3]]):
    sns.lineplot(x=size_x_b, y=ys, ax=axB, color=c, linewidth=1.2,
                 estimator=None, errorbar=None, sort=False, legend=False)

for ax in (axA, axB):
    ax.set_xlim(0, 600)
    ax.set_ylim(0, 2.5)
    ax.set_xticks(range(0, 601, 100))
    ax.set_yticks([0, 0.5, 1, 1.5, 2, 2.5])
    ax.set_yticklabels(['0', '0.5', '1.0', '1.5', '2.0', '2.5'])
    ax.set_xlabel('')
    ax.set_ylabel('')
    style_ticks(ax)
    ax.spines['top'].set_visible(False)
    end_legend(ax, [0.962, 0.907, 0.853, 0.799])
axA.spines['right'].set_visible(False)

# ---- C ----
axC = px_ax(64, 422, 727, 535)
for ys, c in zip([dens_edta0, dens_edta6, dens_hep0, dens_hep6], dens_colors):
    sns.lineplot(x=ctcf_x, y=ys, ax=axC, color=c, linewidth=2.0,
                 estimator=None, errorbar=None, sort=False, legend=False)
axC.set_xlim(-1500, 1500)
axC.set_ylim(0.61, 3.13)
axC.set_xticks(range(-1500, 1501, 500))
axC.set_yticks([1, 1.5, 2, 2.5, 3])
axC.set_yticklabels(['1', '', '2', '', '3'])
axC.set_xlabel('')
axC.set_ylabel('')
style_ticks(axC, length=5, xpad=4)
for lab, c, y in zip(dens_labels, dens_text_colors, [0.9, 0.758, 0.619, 0.48]):
    axC.text(0.99, y, lab, transform=axC.transAxes, ha='right', va='center',
             color=c, fontsize=10.5, family=NARROW)

# ---- D / E ----
panels = [
    (631, 844, 'Heparin 0 h', [(wt_h0_c, wt_h0_c_mid), (wt_h0_g, wt_h0_g_mid),
                               (wt_h0_a, wt_h0_a_mid), (wt_h0_t, wt_h0_t_mid)], 64, 354, False),
    (631, 844, 'Heparin 6 h', [(wt_h6_c, wt_h6_c_mid), (wt_h6_g, wt_h6_g_mid),
                               (wt_h6_a, wt_h6_a_mid), (wt_h6_t, wt_h6_t_mid)], 437, 727, True),
    (934, 1147, 'Heparin 0 h', [(ko_h0_c, ko_h0_c_mid), (ko_h0_g, ko_h0_g_mid),
                                (ko_h0_a, ko_h0_a_mid), (ko_h0_t, ko_h0_t_mid)], 64, 354, False),
    (934, 1147, 'Heparin 6 h', [(ko_h6_c, ko_h6_c_mid), (ko_h6_g, ko_h6_g_mid),
                                (ko_h6_a, ko_h6_a_mid), (ko_h6_t, ko_h6_t_mid)], 437, 727, True),
]
order_cols = [end_colors[0], end_colors[2], end_colors[3], end_colors[1]]
x_all = np.concatenate([rel_x, rel_x_mid])
for top, bot, cond, series, l, r, leg in panels:
    ax = px_ax(l, top, r, bot)
    for (ys, ys_mid), c in zip(series, order_cols):
        sns.lineplot(x=x_all, y=np.concatenate([ys, ys_mid]), ax=ax, color=c,
                     linewidth=0.8, estimator=None, errorbar=None, sort=True, legend=False)
    ax.set_xlim(-500, 500)
    ax.set_ylim(0, 60)
    ax.set_xticks([-500, -250, 0, 250, 500])
    ax.set_yticks(range(0, 61, 10))
    ax.set_xlabel('')
    ax.set_ylabel('')
    style_ticks(ax, xpad=3)
    ax.text(0.5, 0.93, cond, transform=ax.transAxes, ha='center', va='center',
            fontsize=10.5, color='#111111')
    if leg:
        end_legend(ax, [0.944, 0.873, 0.798, 0.723])

for ax in fig.axes:
    for s in ax.spines.values():
        s.set_color('#222222')
        s.set_linewidth(1.0)
for s in ('left', 'right'):
    axB.spines[s].set_color('#a8a8a8')
    axB.spines[s].set_linewidth(2.0)

# ---- texts ----
lab_kw = dict(fontsize=10.5, color='#111111', ha='center', va='center')
for x in (209, 582):
    ptext(x, 361, 'Fragment size (bp)', **lab_kw)
    ptext(x, 876, 'Relative distance (bp)', **lab_kw)
    ptext(x, 1178, 'Relative distance (bp)', **lab_kw)
ptext(395, 569, 'Relative distance (bp)', **lab_kw)
for x in (25, 400):
    ptext(x, 184, 'Frequency (%)', rotation=90, **lab_kw)
for x in (28, 400):
    ptext(x, 737, 'Base content (%)', rotation=90, **lab_kw)
    ptext(x, 1040, 'Base content (%)', rotation=90, **lab_kw)
ptext(13, 478, 'Normalized end density', rotation=90, family=NARROW, **lab_kw)

pl_kw = dict(fontsize=14, fontweight='bold', color='#111111', ha='left', va='center')
ptext(4, 14, 'A', **pl_kw)
ptext(377, 14, 'B', **pl_kw)
ptext(4, 378, 'C', **pl_kw)
ptext(4, 603, 'D', **pl_kw)
ptext(4, 908, 'E', **pl_kw)

B_ = dict(fontsize=12.5, fontweight='bold', color='#111111')
N_ = dict(fontsize=12.5, color='#111111')
rich(209, 28.5, [('WT EDTA 0 h:', B_, 0, 5), ('cfDNA size', N_, 0, 0)])
rich(582, 28.5, [('WT Heparin 6 h:', B_, 0, 5), ('cfDNA size', N_, 0, 0)])
rich(395, 410, [('WT end density', B_, 0, 5),
                ('in CTCF region', dict(N_, family=NARROW), 0, 0)])
rich(395, 619, [('WT ends', B_, 0, 5), ('in CTCF region', N_, 0, 0)])
rich(395, 921, [('Dnase1', dict(B_, fontstyle='italic'), 0, 1),
                ('\u2013/\u2013', dict(fontsize=8, fontstyle='italic', color='#111111'), 6, 4),
                ('ends', B_, 0, 5), ('in CTCF region', N_, 0, 0)])

fig.savefig('out.png', dpi=100)
